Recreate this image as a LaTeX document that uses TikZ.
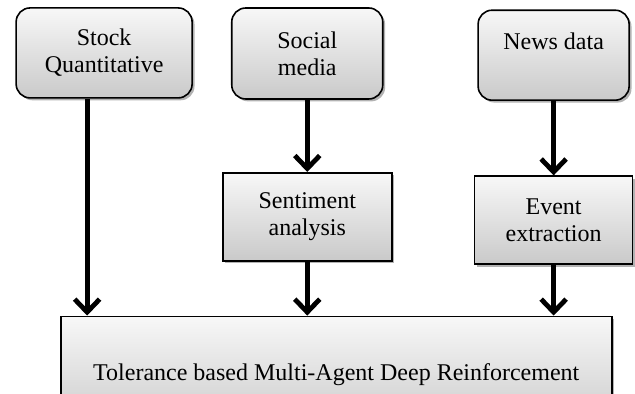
\documentclass[tikz,border=0pt]{standalone}
\usepackage{fontspec}
\setmainfont{Liberation Serif}
\usepackage{tikz}
\usetikzlibrary{shapes,arrows.meta,shadows}
\tikzstyle{block} = [rectangle, draw, line width=0.8pt, top color=gray!6, bottom color=gray!42, align=center, font=\fontsize{12}{13.6}\selectfont, drop shadow={shadow xshift=1.2pt, shadow yshift=-1.2pt, fill=gray!60, opacity=1}]
\tikzstyle{source} = [block, rounded corners=7pt]
\tikzstyle{line} = [draw, line width=2.4pt, -{Straight Barb[length=6.5pt,width=12.5pt,line width=2.4pt]}]

\begin{document}
\begin{tikzpicture}
\clip (0,0) rectangle (11.16,-6.92);
\node [source, minimum width=88pt, minimum height=45pt] (stock) at (1.83,-0.93) {Stock\\Quantitative};
\node [source, minimum width=75.5pt, minimum height=45.5pt] (social) at (5.40,-0.94) {Social\\media};
\node [source, minimum width=75.5pt, minimum height=45pt] (news) at (9.73,-0.97) {News data\\\phantom{x}};
\node [block, minimum width=84.5pt, minimum height=44pt] (sentiment) at (5.40,-3.81) {Sentiment\\analysis};
\node [block, minimum width=79pt, minimum height=44pt] (event) at (9.73,-3.87) {Event\\extraction};
\node [block, minimum width=275.5pt, minimum height=58pt] (tmadrl) at (5.91,-6.58) {Tolerance based Multi-Agent Deep Reinforcement};
\path [line] ([xshift=-8.5pt]stock.south) -- ([xshift=-8.5pt]stock.south |- tmadrl.north);
\path [line] (social) -- (sentiment);
\path [line] (sentiment) -- (sentiment |- tmadrl.north);
\path [line] (news) -- (event);
\path [line] (event) -- (event |- tmadrl.north);
\end{tikzpicture}
\end{document}
